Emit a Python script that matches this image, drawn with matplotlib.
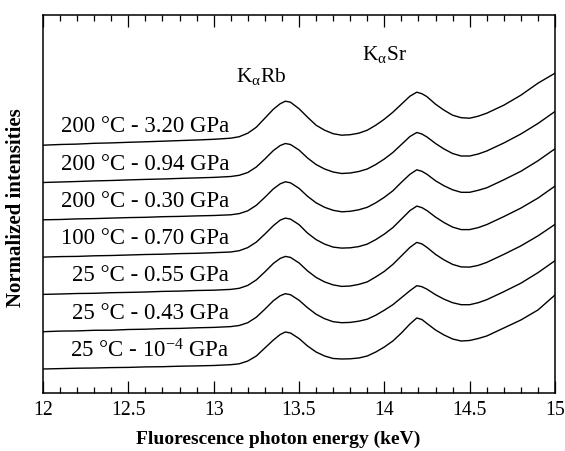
import matplotlib
matplotlib.use("Agg")
import matplotlib.pyplot as plt
from matplotlib.ticker import MultipleLocator

plt.rcParams['font.family'] = ['Liberation Serif', 'DejaVu Serif']
plt.rcParams['mathtext.fontset'] = 'custom'
plt.rcParams['mathtext.rm'] = 'Liberation Serif'
plt.rcParams['mathtext.it'] = 'Liberation Serif:italic'
plt.rcParams['mathtext.bf'] = 'Liberation Serif:bold'

# ---------------- data ----------------
energy = [12.0, 12.1, 12.2, 12.3, 12.4, 12.5, 12.6, 12.7, 12.8, 12.9,
          13.0, 13.1, 13.15, 13.2, 13.25, 13.3, 13.35, 13.39, 13.42, 13.45,
          13.5, 13.55, 13.6, 13.65, 13.7, 13.75, 13.8, 13.85, 13.9, 13.95,
          14.0, 14.05, 14.1, 14.15, 14.19, 14.22, 14.25, 14.3, 14.35, 14.4,
          14.45, 14.5, 14.55, 14.6, 14.7, 14.8, 14.9, 15.0]

labels = ["25 °C - 10$^{\\mathrm{-4}}$ GPa", "25 °C - 0.43 GPa", "25 °C - 0.55 GPa",
          "100 °C - 0.70 GPa", "200 °C - 0.30 GPa", "200 °C - 0.94 GPa",
          "200 °C - 3.20 GPa"]

s_25_1e4 = [0, 0.4, 0.8, 1.0, 1.4, 1.6, 2.1, 2.3, 2.8, 3.1,
            3.5, 4.3, 5.2, 8, 13, 21, 29, 34.5, 37, 36,
            30.5, 23, 17, 13, 10.5, 10, 10.2, 11, 13, 17,
            22, 28, 36, 45, 51, 49.5, 45.5, 39, 34, 30,
            28, 28.5, 30.5, 33, 41, 49, 59, 74]
s_25_043 = [0, 0.6, 0.8, 1.4, 1.5, 2.2, 2.5, 3.1, 3.3, 3.9,
            4.3, 5.1, 6.2, 9, 14.5, 22.5, 31, 36, 38, 37,
            31.5, 24, 17.5, 13, 10, 9, 9.3, 10.5, 12.5, 16.5,
            21.5, 27, 34, 41, 46, 45, 42.5, 37, 32.5, 29,
            27, 27, 29, 32, 40, 48.5, 59, 71]
s_25_055 = [0, 0.4, 0.9, 1.1, 1.7, 2.0, 2.4, 3.0, 3.3, 3.9,
            4.2, 5.0, 6.1, 9, 14.5, 22.5, 31, 36, 38, 37,
            31.5, 23.5, 17, 12.5, 9.5, 8, 8.4, 10, 12.5, 17.5,
            23, 30, 38.5, 47, 52, 50.5, 47, 40, 34.5, 30,
            27.5, 27.3, 29, 32, 40, 48.5, 58.5, 70]
s_100_070 = [0, 0.5, 0.7, 1.3, 1.6, 2.1, 2.6, 2.9, 3.5, 3.8,
             4.4, 5.1, 6.4, 9.5, 15, 23, 31.5, 37, 39, 38,
             32.5, 24, 17.5, 13, 10, 9, 9.3, 10.5, 13, 17.5,
             23, 29.5, 38, 46.5, 51, 49.5, 46.5, 40, 34.5, 30,
             27.5, 27.5, 29.5, 32.5, 40.5, 49, 59, 71]
s_200_030 = [0, 0.3, 0.9, 1.2, 1.7, 2.2, 2.5, 3.1, 3.4, 3.9,
             4.3, 5.0, 6.2, 9, 14.5, 22.5, 31, 36, 38, 37,
             31.5, 23.5, 17, 12.5, 9.5, 8, 8.5, 10, 12.5, 17,
             22.5, 29, 37.5, 45.5, 50, 48.5, 45.5, 39, 34, 30,
             27.5, 27.5, 29.5, 32, 40, 48.5, 59, 71]
s_200_094 = [0, 0.5, 1.0, 1.6, 2.0, 2.6, 3.1, 3.5, 4.1, 4.6,
             5.1, 6.0, 7.2, 10, 15.5, 23.5, 32, 37, 39, 38,
             32.5, 24.5, 18, 13.5, 10.5, 9, 9.5, 11, 13.5, 18,
             23.5, 30, 38, 46, 50, 48.5, 45.5, 39, 33.5, 29,
             26.5, 26.5, 28.5, 31.5, 39.5, 48.5, 59, 71]
s_200_320 = [0, 0.7, 1.1, 1.9, 2.3, 2.9, 3.4, 4.0, 4.6, 5.2,
             5.9, 7.0, 8.5, 12, 18, 27, 36, 41.5, 44, 43,
             36.5, 28, 20, 15, 11.5, 10, 10.5, 12, 15, 20,
             26, 33, 41, 49, 53, 51.5, 48.5, 41, 35, 30,
             27.5, 27, 29, 32, 40, 50, 62, 72]

series = [s_25_1e4, s_25_043, s_25_055, s_100_070, s_200_030, s_200_094, s_200_320]

# ---------------- figure ----------------
W, H = 565, 451
fig = plt.figure(figsize=(W / 100, H / 100), dpi=100)
ax = fig.add_axes([43 / W, 1 - 393 / H, (555 - 43) / W, (393 - 15) / H])

base, step = 24.0, 37.3
for i, (lab, s) in enumerate(zip(labels, series)):
    off = base + step * i
    ax.plot(energy, [v + off for v in s], color='black', lw=1.0)
    ax.text(13.09, off + 18.5, lab, ha='right', va='center', fontsize=16.5)

ax.text(13.28, 311, r"K$_{\mathrm{\alpha}}$Rb", ha='center', va='baseline', fontsize=15.5)
ax.text(14.00, 333, r"K$_{\mathrm{\alpha}}$Sr", ha='center', va='baseline', fontsize=15.5)

ax.set_xlim(12, 15)
ax.set_ylim(0, 378)
ax.xaxis.set_major_locator(MultipleLocator(0.5))
ax.xaxis.set_minor_locator(MultipleLocator(0.1))
ax.set_xticks([12, 12.5, 13, 13.5, 14, 14.5, 15])
ax.set_xticklabels(["12", "12.5", "13", "13.5", "14", "14.5", "15"])
ax.tick_params(axis='x', which='both', direction='in', top=True, bottom=True,
               labelsize=14.2, pad=6, width=0.9)
ax.tick_params(axis='x', which='major', length=8.6)
ax.tick_params(axis='x', which='minor', length=4.3)
ax.set_yticks([])
for sp in ax.spines.values():
    sp.set_linewidth(1.1)

ax.set_xlabel("Fluorescence photon energy (keV)", fontsize=14, fontweight='bold')
ax.xaxis.set_label_coords(0.459, -0.1)
ax.set_ylabel("Normalized intensities", fontsize=15, fontweight='bold')
ax.yaxis.set_label_coords(-0.033, 0.49)

fig.savefig("out.png", dpi=100)
